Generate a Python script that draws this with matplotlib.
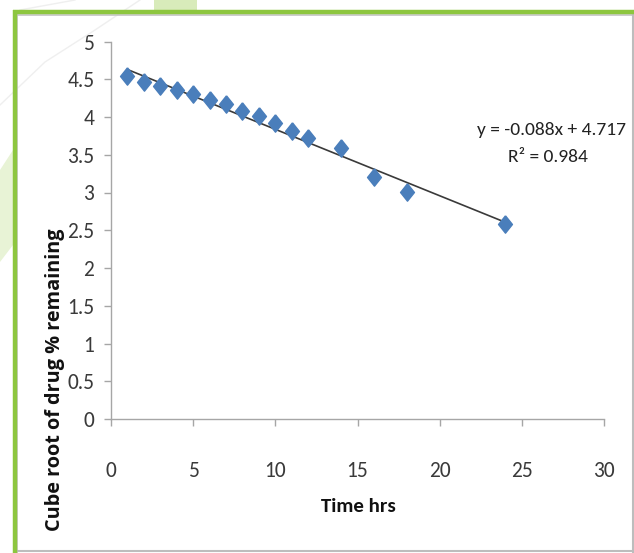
import matplotlib.pyplot as plt
from matplotlib import font_manager
from matplotlib.lines import Line2D
from matplotlib.patches import Rectangle, Polygon

# release data: time (hrs) vs cube root of drug % remaining
time_hrs = [1, 2, 3, 4, 5, 6, 7, 8, 9, 10, 11, 12, 14, 16, 18, 24]
cube_root = [4.54, 4.46, 4.41, 4.36, 4.31, 4.23, 4.17, 4.08, 4.01, 3.92,
             3.82, 3.72, 3.59, 3.21, 3.01, 2.58]
slope, intercept, r2 = -0.088, 4.717, 0.984

x_ticks = [0, 5, 10, 15, 20, 25, 30]
y_ticks = [0, 0.5, 1, 1.5, 2, 2.5, 3, 3.5, 4, 4.5, 5]
y_ticklabels = ["0", "0.5", "1", "1.5", "2", "2.5", "3", "3.5", "4", "4.5", "5"]

W, H = 634, 553

# pick the narrowest installed family for the Calibri-like labels
installed = {f.name for f in font_manager.fontManager.ttflist}
narrow_name = next((n for n in ["Carlito", "Liberation Sans Narrow", "Roboto Condensed",
                                "Open Sans Condensed", "Lato"] if n in installed),
                   "Liberation Sans")
narrow = [narrow_name, "DejaVu Sans"]
bold_lbl = ["Open Sans", "DejaVu Sans"]

fig = plt.figure(figsize=(W / 100, H / 100), dpi=100)
fig.patch.set_facecolor("white")

def px(x, y):
    return x / W, 1 - y / H

# slide decorations behind the chart frame
fig.add_artist(Rectangle(px(154, 10), 43 / W, 10 / H, color="#d8ebba", lw=0))
fig.add_artist(Polygon([px(0, 170), px(13, 150), px(13, 245), px(0, 262)],
                       closed=True, color="#e8f3d6", lw=0))
for pts in [[(0, 105), (45, 62), (95, 30), (140, 0)],
            [(20, 10), (75, 0)]]:
    xs, ys = zip(*[px(a, b) for a, b in pts])
    fig.add_artist(Line2D(xs, ys, color="#efefef", lw=1))

# chart frame: green top/left, grey right/bottom
def seg(x0, y0, x1, y1, c, lw):
    a, b = px(x0, y0), px(x1, y1)
    fig.add_artist(Line2D([a[0], b[0]], [a[1], b[1]], color=c, lw=lw,
                          solid_capstyle="butt"))

seg(13, 15, 634, 15, "#c4c4c4", 1.2)
seg(17, 12, 17, 553, "#c4c4c4", 1.2)
seg(13, 551, 634, 551, "#bdbdbd", 1.5)
seg(632.5, 12, 632.5, 553, "#bdbdbd", 1.5)
seg(13, 11.5, 634, 11.5, "#8dc63f", 3.2)
seg(14.5, 10, 14.5, 553, "#8dc63f", 3.2)

ax = fig.add_axes([111 / W, 1 - 419 / H, 493 / W, 377.5 / H])
ax.set_xlim(0, 30)
ax.set_ylim(0, 5)
ax.patch.set_alpha(0)

diamond = [(0, 1), (0.8, 0), (0, -1), (-0.8, 0), (0, 1)]
ax.plot(time_hrs, cube_root, linestyle="none", marker=diamond,
        markersize=12.5, color="#4a7ebb", markeredgecolor="#4a7ebb", zorder=3)

fit_x = [time_hrs[0], time_hrs[-1]]
fit_y = [slope * t + intercept for t in fit_x]
ax.plot(fit_x, fit_y, color="#3a3a3a", lw=1.2, zorder=2)

ax.set_xticks(x_ticks)
ax.set_xticklabels([str(t) for t in x_ticks], family=narrow, fontsize=15.5,
                   color="#3a3a3a")
ax.set_yticks(y_ticks)
ax.set_yticklabels(y_ticklabels, family=narrow, fontsize=15.5, color="#3a3a3a")
ax.tick_params(axis="both", direction="out", length=5, color="#a6a6a6", width=1)
ax.tick_params(axis="y", pad=7)
ax.tick_params(axis="x", pad=25)
for s in ["top", "right"]:
    ax.spines[s].set_visible(False)
for s in ["left", "bottom"]:
    ax.spines[s].set_color("#a6a6a6")
    ax.spines[s].set_linewidth(1)

fig.text(626 / W, 1 - 130 / H, f"y = {slope}x + {intercept}",
         ha="right", va="center", family=narrow, fontsize=14, color="#222222")
fig.text(548 / W, 1 - 157 / H, f"R² = {r2}",
         ha="center", va="center", family=narrow, fontsize=14, color="#222222")

fig.text(358 / W, 1 - 507 / H, "Time hrs", ha="center", va="center",
         family=narrow, fontweight="bold", fontsize=15, color="#111111")
fig.text(55 / W, 1 - 380 / H, "Cube root of drug % remaining", rotation=90,
         ha="center", va="center", family=bold_lbl, fontweight="bold",
         fontsize=14.3, color="#111111")

fig.savefig("out.png", dpi=100)
